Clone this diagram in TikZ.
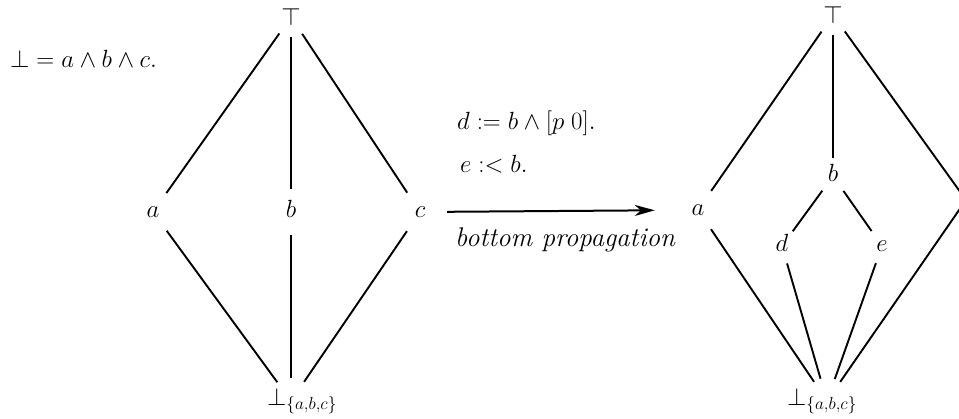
\documentclass[tikz,border=0pt]{standalone}
\usetikzlibrary{arrows.meta}
\begin{document}
\begin{tikzpicture}[x=1pt,y=-1pt,
  every node/.style={font=\fontsize{27}{32}\selectfont},
  lat/.style={circle, inner sep=0pt, minimum size=46pt, text height=11pt, text depth=0pt},
  latsmall/.style={lat, minimum size=36pt},
  topnode/.style={circle, inner sep=0pt, minimum size=40pt},
  botnode/.style={circle, inner sep=0pt, minimum size=46pt},
  link/.style={line width=1.9pt},
  bigarrow/.style={line width=2pt, -{Stealth[length=20pt,width=11pt,inset=6pt]}},
  txt/.style={anchor=base west, inner sep=0pt}]
\useasboundingbox (0,0) rectangle (959,419);
\clip (0,0) rectangle (959,419);
\fill[white] (0,0) rectangle (959,419);

% left lattice
\node[topnode] (t1) at (291,17) {$\top$};
\node[lat] (a1) at (153,212) {$a$};
\node[lat] (b1) at (291,212) {$b$};
\node[lat] (c1) at (420,212) {$c$};
\node[botnode] (bot1) at (291,401) {\makebox[0pt]{\hspace*{22pt}$\bot_{\{a,b,c\}}$}};
\draw[link] (t1) -- (a1);
\draw[link] (t1) -- (b1);
\draw[link] (t1) -- (c1);
\draw[link] (a1) -- (bot1);
\draw[link] (b1) -- (bot1);
\draw[link] (c1) -- (bot1);

% right lattice
\node[topnode] (t2) at (833,15) {$\top$};
\node[lat] (a2) at (698,210) {$a$};
\node[latsmall] (b2) at (833,176) {$b$};
\node[latsmall] (d2) at (782,246) {$d$};
\node[latsmall] (e2) at (882,246) {$e$};
\coordinate (c2) at (966,200);
\node[botnode] (bot2) at (827,401) {\makebox[0pt]{$\bot_{\{a,b,c\}}$\hspace*{10pt}}};
\draw[link] (t2) -- (a2);
\draw[link] (t2) -- (b2);
\draw[link] (t2) -- (c2);
\draw[link] (b2) -- (d2);
\draw[link] (b2) -- (e2);
\draw[link] (a2) -- (bot2);
\draw[link] (d2) -- (bot2);
\draw[link] (e2) -- (bot2);
\draw[link] (c2) -- (bot2);

% texts
\node[txt] (eq) at (10,68) {$\bot = a \wedge b \wedge c.$};
\node[txt] (def1) at (457,130) {$d := b \wedge [p\;0].$};
\node[txt] (def2) at (460,173) {$e :< b.$};
\node[txt] (lab) at (455,247) {\textit{bottom propagation}};

% arrow
\draw[bigarrow, shorten <=4pt, shorten >=20pt] (c1) -- (a2);
\end{tikzpicture}
\end{document}
